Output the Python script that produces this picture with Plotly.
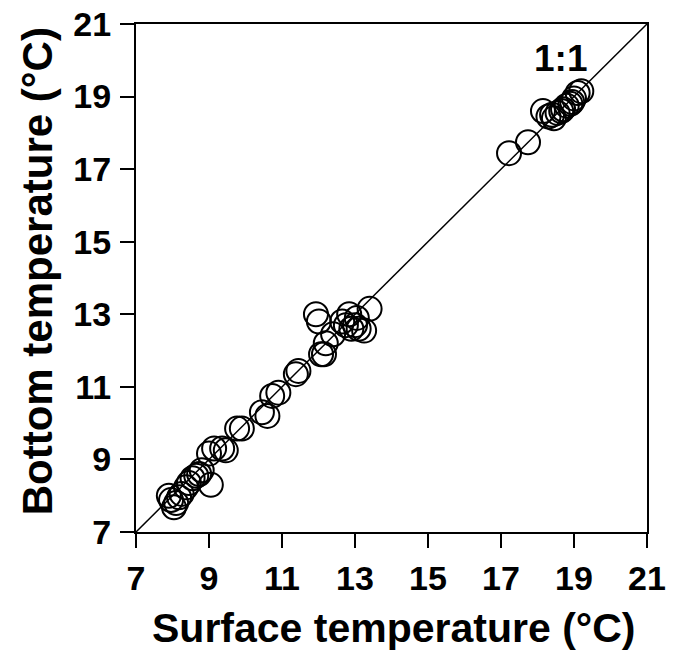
import plotly.graph_objects as go

surface = [7.9, 7.96, 8.04, 8.1, 8.18, 8.25, 8.37, 8.45, 8.55, 8.65, 8.73, 8.8, 9.05,
           9.0, 9.14, 9.36, 9.46, 9.77, 9.9, 10.45, 10.6, 10.73, 10.9, 11.38, 11.45,
           12.07, 12.15, 12.2, 11.93, 12.01, 12.4, 12.65, 12.75, 12.84, 12.9, 13.0, 13.05,
           13.1, 13.25, 13.4,
           17.22, 17.74, 18.15, 18.3, 18.4, 18.45, 18.55, 18.65, 18.7, 18.8, 18.9, 18.95,
           19.0, 19.1, 19.2]
bottom = [8.0, 7.88, 7.68, 7.8, 7.96, 8.05, 8.23, 8.35, 8.48, 8.55, 8.6, 8.7, 8.3,
          9.16, 9.3, 9.3, 9.25, 9.85, 9.85, 10.3, 10.2, 10.75, 10.84, 11.35, 11.44,
          11.9, 11.9, 12.2, 13.0, 12.8, 12.45, 12.8, 12.7, 13.0, 12.6, 12.7, 12.9,
          12.6, 12.55, 13.15,
          17.44, 17.74, 18.6, 18.45, 18.5, 18.4, 18.55, 18.6, 18.65, 18.75, 18.8, 18.85,
          18.95, 19.1, 19.15]
line_x = [7, 21]
line_y = [7, 21]
ticks = [7, 9, 11, 13, 15, 17, 19, 21]
x_title = "Surface temperature (°C)"
y_title = "Bottom temperature (°C)"

FONT = "Liberation Sans"

fig = go.Figure()
fig.add_trace(go.Scatter(x=line_x, y=line_y, mode="lines",
                         line=dict(color="black", width=1.5), showlegend=False))
fig.add_trace(go.Scatter(x=surface, y=bottom, mode="markers",
                         marker=dict(symbol="circle-open", size=24, color="black",
                                     line=dict(width=2, color="black")),
                         showlegend=False))
fig.add_annotation(x=18.62, y=20.06, text="<b>1:1</b>", showarrow=False,
                   font=dict(size=37, color="black", family=FONT))
fig.add_annotation(xref="paper", yref="paper", x=0.503, y=-0.189, text=f"<b>{x_title}</b>",
                   showarrow=False, xanchor="center", yanchor="middle",
                   font=dict(size=41, color="black", family=FONT))
fig.add_annotation(xref="paper", yref="paper", x=-0.192, y=0.513, text=f"<b>{y_title}</b>",
                   showarrow=False, xanchor="center", yanchor="middle", textangle=-90,
                   font=dict(size=42, color="black", family=FONT))

axis_common = dict(range=[7, 21], tickvals=ticks, ticktext=[f"<b>{t}</b>" for t in ticks],
                   ticks="outside", ticklen=14, tickwidth=2, automargin=False,
                   tickcolor="black", showline=True, linecolor="black", linewidth=2,
                   mirror=True, showgrid=False, zeroline=False,
                   tickfont=dict(size=34, color="black", family=FONT))
fig.update_xaxes(**axis_common, ticklabelstandoff=1)
fig.update_yaxes(**axis_common, ticklabelstandoff=2)
fig.update_layout(width=673, height=653, margin=dict(l=136, r=26, t=24, b=121),
                  plot_bgcolor="white", paper_bgcolor="white")
fig.write_html("out.html")
